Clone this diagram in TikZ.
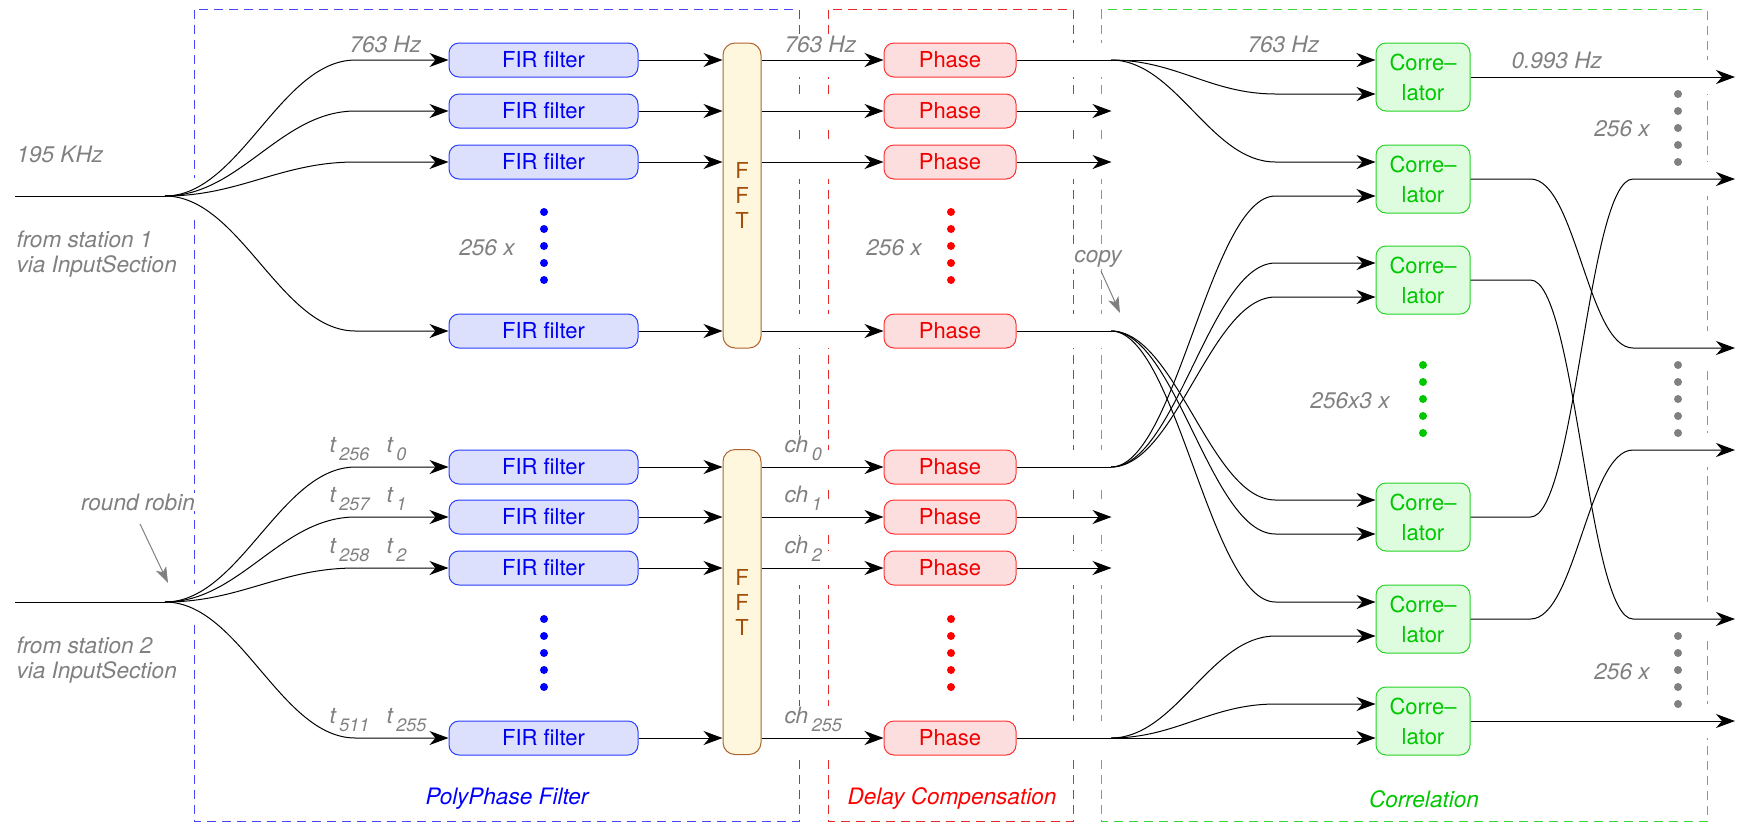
\documentclass[tikz,border=0pt]{standalone}
\usepackage{fontspec}
\setmainfont{TeX Gyre Heros}
\usetikzlibrary{arrows.meta}

\definecolor{firfill}{RGB}{221,224,252}
\definecolor{firdraw}{RGB}{40,60,255}
\definecolor{firtext}{RGB}{0,0,240}
\definecolor{fftfill}{RGB}{254,247,222}
\definecolor{fftdraw}{RGB}{175,100,45}
\definecolor{ffttext}{RGB}{160,80,10}
\definecolor{phfill}{RGB}{253,222,222}
\definecolor{phdraw}{RGB}{255,50,50}
\definecolor{phtext}{RGB}{240,0,0}
\definecolor{cofill}{RGB}{222,252,222}
\definecolor{codraw}{RGB}{40,210,40}
\definecolor{cotext}{RGB}{0,200,0}
\definecolor{lblgray}{RGB}{128,128,128}
\definecolor{dblue}{RGB}{70,70,255}
\definecolor{dred}{RGB}{230,40,40}
\definecolor{dgreen}{RGB}{60,210,60}
\definecolor{dotblue}{RGB}{0,0,255}
\definecolor{dotred}{RGB}{255,0,0}
\definecolor{dotgreen}{RGB}{0,200,0}

\newcommand\bxfont{\fontsize{22}{30}\selectfont}
\newcommand\lbfont{\fontsize{22.6}{25}\selectfont\itshape}
\newcommand\subl[2]{#1\hspace{3.5pt}\raisebox{-8pt}{\fontsize{18}{18}\selectfont #2}}
\newcommand\fanto[3]{\draw[arr] (#1) .. controls +(65,0) and +(-65,0) .. ([xshift=-100pt,yshift=#3]#2.west) -- ([yshift=#3]#2.west);}
\newcommand\outto[2]{\draw[arr] (#1.east) -- ([xshift=60pt]#1.east) .. controls +(45,0) and +(-45,0) .. ([xshift=-102pt]#2) -- (#2);}

\begin{document}
\begin{tikzpicture}[x=1pt,y=-1pt,line width=1pt,
  fir/.style={draw=firdraw,fill=firfill,text=firtext,rounded corners=10pt,minimum width=189pt,minimum height=34pt,inner sep=0pt,font=\bxfont},
  fft/.style={draw=fftdraw,fill=fftfill,text=ffttext,rounded corners=12pt,minimum width=38pt,minimum height=305pt,inner sep=0pt,font=\fontsize{22}{25}\selectfont,align=center},
  phase/.style={draw=phdraw,fill=phfill,text=phtext,rounded corners=10pt,minimum width=132pt,minimum height=34pt,inner sep=0pt,font=\bxfont},
  corr/.style={draw=codraw,fill=cofill,text=cotext,rounded corners=10pt,minimum width=94pt,minimum height=68pt,inner sep=0pt,font=\bxfont,align=center},
  arr/.style={-{Stealth[length=19pt,width=14pt,inset=6pt]}},
  garr/.style={draw=lblgray,-{Stealth[length=16pt,width=11pt,inset=4pt]}},
  lbl/.style={text=lblgray,font=\lbfont,inner sep=1pt},
  wlbl/.style={lbl,fill=white},
  dbox/.style={dash pattern=on 9pt off 6pt,line width=1pt},
  sect/.style={font=\lbfont,inner sep=1pt}]
\useasboundingbox (0,0) rectangle (1740,823);

% dashed section boxes
\draw[dbox,dblue] (194,9.5) rectangle (799,821.5);
\draw[dbox,dred] (828,9.5) rectangle (1073,821.5);
\draw[dbox,dgreen] (1101,9.5) rectangle (1707,821.5);
% gaps where lines cross the dashed borders
\foreach \gx in {799,828,1073,1101}
  \foreach \gy in {60,111,162,331,467,517,568,738}
    \fill[white] (\gx-3,\gy-17) rectangle (\gx+3,\gy+17);
\foreach \gy in {196,602}
  \fill[white] (191,\gy-18) rectangle (197,\gy+18);
\foreach \gy in {77,179,348,450,619,721}
  \fill[white] (1704,\gy-17) rectangle (1710,\gy+17);

% section titles
\node[sect,text=dotblue] (ttlA) at (507,799) {PolyPhase Filter};
\node[sect,text=dotred] (ttlB) at (952,799) {Delay Compensation};
\node[sect,text=dotgreen] (ttlC) at (1424,799) {Correlation};

% nodes
\foreach \n/\y in {f1/60,f2/111,f3/162,f4/331,g1/467,g2/517,g3/568,g4/738}
  \node[fir] (\n) at (543.5,\y) {FIR filter};
\node[fft] (fftA) at (742,195.5) {F\\F\\T};
\node[fft] (fftB) at (742,602) {F\\F\\T};
\foreach \n/\y in {p1/60,p2/111,p3/162,p4/331,q1/467,q2/517,q3/568,q4/738}
  \node[phase] (\n) at (950,\y) {Phase};
\foreach \n/\y in {c1/77,c2/179,c3/280,c4/517,c5/619,c6/721}
  \node[corr] (\n) at (1423,\y) {Corre--\\lator};

% coordinates
\coordinate (inA) at (15,196);
\coordinate (spA) at (165,196);
\coordinate (inB) at (15,602);
\coordinate (spB) at (165,602);
\coordinate (s1) at (1111,60);
\coordinate (s4) at (1111,331);
\coordinate (t1) at (1111,467);
\coordinate (t4) at (1111,738);
\foreach \n in {p2,p3,q2,q3}
  \coordinate (o\n) at ([xshift=95pt]\n.east);
\foreach \k/\y in {1/77,2/179,3/348,4/450,5/619,6/721}
  \coordinate (out\k) at (1735,\y);
\coordinate (copytip) at (1120,313);
\coordinate (rrtip) at (168,583);

% inputs and fans
\draw (inA) -- (spA);
\draw (inB) -- (spB);
\foreach \n in {f1,f2,f3,f4}
  \draw[arr] (spA) .. controls +(75,0) and +(-75,0) .. ([xshift=-93pt]\n.west) -- (\n.west);
\foreach \n in {g1,g2,g3,g4}
  \draw[arr] (spB) .. controls +(75,0) and +(-75,0) .. ([xshift=-93pt]\n.west) -- (\n.west);

% FIR -> FFT -> Phase
\foreach \n in {f1,f2,f3,f4}
  \draw[arr] (\n.east) -- (\n.east -| fftA.west);
\foreach \n in {g1,g2,g3,g4}
  \draw[arr] (\n.east) -- (\n.east -| fftB.west);
\foreach \n in {p1,p2,p3,p4}
  \draw[arr] (\n.west -| fftA.east) -- (\n.west);
\foreach \n in {q1,q2,q3,q4}
  \draw[arr] (\n.west -| fftB.east) -- (\n.west);
\foreach \n in {p2,p3,q2,q3}
  \draw[arr] (\n.east) -- (o\n);

% Phase -> correlators
\draw[arr] (p1.east) -- ([yshift=17pt]c1.west);
\fanto{s1}{c1}{-17pt}
\fanto{s1}{c2}{17pt}
\draw (p4.east) -- (s4);
\fanto{s4}{c4}{17pt}
\fanto{s4}{c4}{-17pt}
\fanto{s4}{c5}{17pt}
\draw (q1.east) -- (t1);
\fanto{t1}{c2}{-17pt}
\fanto{t1}{c3}{17pt}
\fanto{t1}{c3}{-17pt}
\draw[arr] (q4.east) -- ([yshift=-17pt]c6.west);
\fanto{t4}{c5}{-17pt}
\fanto{t4}{c6}{17pt}

% correlator outputs
\draw[arr] (c1.east) -- (out1);
\outto{c4}{out2}
\outto{c2}{out3}
\outto{c5}{out4}
\outto{c3}{out5}
\draw[arr] (c6.east) -- (out6);

% dots
\foreach \y in {212,229,246,263,280,619,636,653,670,687}
  \fill[dotblue] (544,\y) circle (4pt);
\foreach \y in {212,229,246,263,280,619,636,653,670,687}
  \fill[dotred] (951,\y) circle (4pt);
\foreach \y in {365,382,399,416,433}
  \fill[dotgreen] (1423,\y) circle (4pt);
\foreach \y in {94,111,128,145,162,365,382,399,416,433,636,653,670,687,704}
  \fill[lblgray] (1678,\y) circle (4pt);

% labels
\node[lbl,anchor=base west] (khz) at (15,162) {195 KHz};
\node[lbl,anchor=base west] (st1a) at (15,247) {from station 1};
\node[lbl,anchor=base west] (st1b) at (15,272) {via InputSection};
\node[lbl,anchor=base west] (st2a) at (15,653) {from station 2};
\node[lbl,anchor=base west] (st2b) at (15,678) {via InputSection};
\node[wlbl] (rr) at (138,502) {round robin};
\draw[garr] ([xshift=2pt,yshift=-12pt]rr.south) -- (rrtip);
\node[wlbl] (copylbl) at (1098,259) {copy};
\draw[garr] ([xshift=3pt,yshift=-2pt]copylbl.south) -- (copytip);

\node[lbl,anchor=base west] (hzA) at (348,52) {763 Hz};
\node[wlbl,anchor=base west] (hzB) at (783,52) {763 Hz};
\node[lbl,anchor=base west] (hzC) at (1246,52) {763 Hz};
\node[lbl,anchor=base west] (hzD) at (1510,68) {0.993 Hz};

\node[lbl] (nA) at (487,248) {256 x};
\node[lbl] (nB) at (894,248) {256 x};
\node[lbl] (nC) at (1350,401) {256x3 x};
\node[lbl] (nD) at (1622,129) {256 x};
\node[lbl] (nE) at (1622,672) {256 x};

\foreach \i/\y/\a/\b in {1/452/256/0,2/502/257/1,3/553/258/2,4/723/511/255}{
  \node[lbl,anchor=base west] (ta\i) at (328,\y) {\subl{t}{\a}};
  \node[lbl,anchor=base west] (tb\i) at (385,\y) {\subl{t}{\b}};
}
\foreach \i/\y/\b in {1/452/0,2/502/1,3/553/2,4/723/255}
  \node[wlbl,anchor=base west] (ch\i) at (783,\y) {\subl{ch}{\b}};
\end{tikzpicture}
\end{document}
